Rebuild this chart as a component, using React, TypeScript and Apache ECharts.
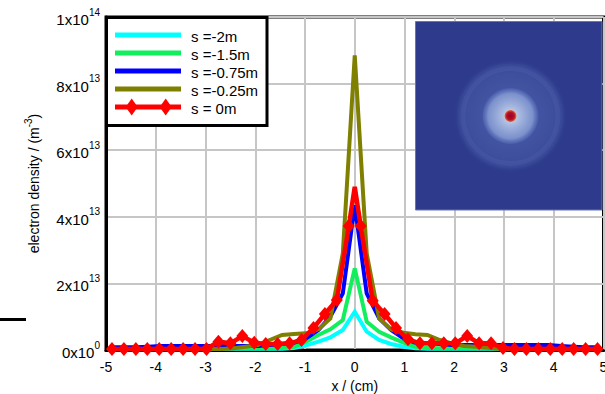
import React, { useEffect, useRef } from "react";
import * as echarts from "echarts";

// Sampling positions (cm) of the smooth profiles
const xProfile = [
  -4.88, -4.63, -4.39, -4.15, -3.9, -3.66, -3.41, -3.17, -2.93, -2.68, -2.44,
  -2.2, -1.95, -1.71, -1.46, -1.22, -0.98, -0.73, -0.49, -0.24, 0, 0.24, 0.49,
  0.73, 0.98, 1.22, 1.46, 1.71, 1.95, 2.2, 2.44, 2.68, 2.93, 3.17, 3.41, 3.66,
  3.9, 4.15, 4.39, 4.63, 4.88,
];

// Sampling positions (cm) of the s = 0m profile
const xZero = [
  -4.88, -4.64, -4.4, -4.17, -3.93, -3.69, -3.45, -3.21, -2.98, -2.74, -2.5,
  -2.26, -2.02, -1.79, -1.55, -1.31, -1.07, -0.83, -0.6, -0.36, -0.12, 0, 0.12,
  0.36, 0.6, 0.83, 1.07, 1.31, 1.55, 1.79, 2.02, 2.26, 2.5, 2.74, 2.98, 3.21,
  3.45, 3.69, 3.93, 4.17, 4.4, 4.64, 4.88,
];

// Electron density in units of 1e13 m^-3
const densS2 = [
  0.04, 0.04, 0.04, 0.04, 0.04, 0.04, 0.04, 0.04, 0.04, 0.04, 0.04, 0.04, 0.04,
  0.04, 0.04, 0.06, 0.14, 0.25, 0.38, 0.6, 1.15, 0.55, 0.3, 0.18, 0.1, 0.05,
  0.04, 0.04, 0.04, 0.04, 0.04, 0.04, 0.04, 0.04, 0.04, 0.04, 0.04, 0.04, 0.04,
  0.04, 0.04,
];
const densS15 = [
  0.05, 0.05, 0.05, 0.05, 0.05, 0.05, 0.05, 0.05, 0.05, 0.05, 0.05, 0.05, 0.05,
  0.05, 0.06, 0.1, 0.25, 0.45, 0.62, 0.9, 2.45, 0.85, 0.55, 0.38, 0.22, 0.1,
  0.06, 0.05, 0.05, 0.05, 0.05, 0.05, 0.05, 0.05, 0.05, 0.05, 0.05, 0.05, 0.05,
  0.05, 0.05,
];
const densS075 = [
  0.08, 0.08, 0.08, 0.1, 0.12, 0.12, 0.12, 0.12, 0.12, 0.12, 0.12, 0.12, 0.12,
  0.15, 0.18, 0.22, 0.35, 0.6, 1.0, 1.7, 4.35, 1.7, 0.95, 0.6, 0.35, 0.22, 0.2,
  0.18, 0.15, 0.15, 0.15, 0.15, 0.15, 0.15, 0.15, 0.15, 0.15, 0.12, 0.1, 0.08,
  0.08,
];
const densS025 = [
  0.03, 0.03, 0.03, 0.03, 0.03, 0.03, 0.03, 0.03, 0.03, 0.03, 0.05, 0.1, 0.15,
  0.3, 0.45, 0.48, 0.5, 0.62, 0.95, 2.9, 8.85, 2.9, 0.95, 0.62, 0.52, 0.47, 0.45,
  0.3, 0.2, 0.12, 0.1, 0.07, 0.03, 0.03, 0.03, 0.03, 0.03, 0.03, 0.03, 0.03,
  0.03,
];
const densS0 = [
  0.03, 0.03, 0.03, 0.03, 0.03, 0.03, 0.03, 0.03, 0.03, 0.25, 0.2, 0.42, 0.22,
  0.18, 0.18, 0.2, 0.3, 0.66, 1.08, 1.5, 3.72, 4.9, 3.72, 1.48, 1.08, 0.66,
  0.32, 0.2, 0.2, 0.2, 0.2, 0.42, 0.2, 0.2, 0.06, 0.03, 0.03, 0.03, 0.03, 0.03,
  0.03, 0.03, 0.03,
];

const seriesNames = ["s =-2m", "s =-1.5m", "s =-0.75m", "s =-0.25m", "s = 0m"];
const seriesColors = ["#00ffff", "#11f05c", "#0000ff", "#808000", "#ff0000"];

const xTicks = { min: -5, max: 5, interval: 1 };
const yTicks = { min: 0, max: 1e14, interval: 2e13 };

const FONT = '"Liberation Sans", Arial, sans-serif';

function sciLabel(v: number): string {
  if (v === 0) return "{a|0x10}{b|0}";
  const exp = Math.floor(Math.log10(v) + 1e-9);
  const mant = Math.round(v / Math.pow(10, exp));
  return `{a|${mant}x10}{b|${exp}}`;
}

export default function App() {
  const ref = useRef<HTMLDivElement>(null);

  useEffect(() => {
    if (!ref.current) return;
    const chart = echarts.init(ref.current, undefined, { renderer: "svg" });

    const profiles = [densS2, densS15, densS075, densS025];
    const lineSeries = profiles.map((vals, i) => ({
      name: seriesNames[i],
      type: "line",
      data: xProfile.map((x, j) => [x, vals[j] * 1e13]),
      showSymbol: false,
      lineStyle: { color: seriesColors[i], width: 4, join: "miter", miterLimit: 3 },
      itemStyle: { color: seriesColors[i] },
      z: 2 + i,
    }));

    const zeroSeries = {
      name: seriesNames[4],
      type: "line",
      data: xZero.map((x, j) =>
        x === 0
          ? { value: [x, densS0[j] * 1e13], symbol: "none" }
          : [x, densS0[j] * 1e13]
      ),
      symbol: "diamond",
      symbolSize: [12, 14],
      showAllSymbol: true,
      clip: false,
      lineStyle: { color: seriesColors[4], width: 4.5, join: "miter", miterLimit: 3 },
      itemStyle: { color: seriesColors[4] },
      z: 10,
    };

    // Legend box drawn by hand so the s = 0m entry shows two markers
    const rowY = [35, 53, 71, 89, 107];
    const legendEls: any[] = [
      {
        type: "rect",
        shape: { x: 106.5, y: 17.5, width: 160.5, height: 108 },
        style: { fill: "#ffffff", stroke: "#000000", lineWidth: 3 },
        z: 100,
      },
    ];
    seriesNames.forEach((name, i) => {
      legendEls.push({
        type: "line",
        shape: { x1: 115, y1: rowY[i], x2: 181, y2: rowY[i] },
        style: { stroke: seriesColors[i], lineWidth: 5 },
        z: 101,
      });
      legendEls.push({
        type: "text",
        style: {
          text: name,
          x: 191,
          y: rowY[i] + 1,
          fill: "#000000",
          font: `15px ${FONT}`,
          textAlign: "left",
          textVerticalAlign: "middle",
        },
        z: 102,
      });
    });
    [131.7, 165.7].forEach((cx) => {
      const cy = rowY[4];
      legendEls.push({
        type: "polygon",
        shape: {
          points: [
            [cx, cy - 8.5],
            [cx + 6, cy],
            [cx, cy + 8.5],
            [cx - 6, cy],
          ],
        },
        style: { fill: seriesColors[4] },
        z: 103,
      });
    });

    // Inset: top view of the plasma column
    const cx = 510.5;
    const cy = 116;
    const insetEls: any[] = [
      {
        type: "rect",
        shape: { x: 415.5, y: 21.5, width: 186.5, height: 188.5 },
        style: { fill: "#2e3b8c", stroke: "#6675b8", lineWidth: 1 },
        z: 100,
      },
      {
        type: "circle",
        shape: { cx, cy, r: 57 },
        style: {
          fill: new echarts.graphic.RadialGradient(0.5, 0.5, 0.5, [
            { offset: 0, color: "rgba(110,135,205,0.45)" },
            { offset: 0.75, color: "rgba(100,125,200,0.3)" },
            { offset: 0.9, color: "rgba(95,120,195,0.22)" },
            { offset: 1, color: "rgba(46,59,140,0)" },
          ]),
        },
        z: 101,
      },
      {
        type: "ring",
        shape: { cx, cy, r: 50, r0: 45 },
        style: { fill: "rgba(125,150,215,0.1)" },
        z: 102,
      },
      {
        type: "circle",
        shape: { cx, cy, r: 28 },
        style: {
          fill: new echarts.graphic.RadialGradient(0.5, 0.5, 0.5, [
            { offset: 0, color: "rgba(210,218,238,1)" },
            { offset: 0.35, color: "rgba(170,188,226,0.95)" },
            { offset: 0.8, color: "rgba(138,160,214,0.8)" },
            { offset: 1, color: "rgba(110,135,205,0.2)" },
          ]),
        },
        z: 103,
      },
      {
        type: "circle",
        shape: { cx, cy, r: 6.5 },
        style: {
          fill: new echarts.graphic.RadialGradient(0.5, 0.5, 0.5, [
            { offset: 0, color: "#9c0018" },
            { offset: 0.6, color: "#b3122a" },
            { offset: 0.85, color: "#d8604c" },
            { offset: 1, color: "rgba(235,205,165,0.4)" },
          ]),
        },
        z: 104,
      },
    ];

    const option: any = {
      animation: false,
      backgroundColor: "#ffffff",
      grid: {
        left: 106,
        right: 1.5,
        top: 17,
        bottom: 44,
        outerBoundsMode: "none",
        containLabel: false,
        show: true,
        borderColor: "#000000",
        borderWidth: 3,
      },
      xAxis: {
        type: "value",
        min: xTicks.min,
        max: xTicks.max,
        interval: xTicks.interval,
        name: "x / (cm)",
        nameLocation: "middle",
        nameGap: 28,
        nameTextStyle: { color: "#000", fontSize: 14, fontFamily: FONT },
        axisLine: { onZero: false, lineStyle: { color: "#000", width: 3 } },
        axisTick: { show: false },
        axisLabel: { color: "#000", fontSize: 14, fontFamily: FONT, margin: 10 },
        splitLine: { lineStyle: { color: "#c6c6c6", width: 2 } },
      },
      yAxis: {
        type: "value",
        min: yTicks.min,
        max: yTicks.max,
        interval: yTicks.interval,
        name: "{a|electron density / (m}{b|-3}{a|)}",
        nameLocation: "middle",
        nameGap: 65,
        nameTextStyle: {
          rich: {
            a: { fontSize: 14, fontFamily: FONT, color: "#000", lineHeight: 18, verticalAlign: "bottom" },
            b: { fontSize: 10, fontFamily: FONT, color: "#000", lineHeight: 10, verticalAlign: "top" },
          },
        },
        axisLine: { show: true, onZero: false, lineStyle: { color: "#000", width: 3 } },
        axisTick: { show: false },
        axisLabel: {
          margin: 6,
          formatter: sciLabel,
          rich: {
            a: { fontSize: 15, fontFamily: FONT, color: "#000", lineHeight: 20, verticalAlign: "bottom" },
            b: { fontSize: 10, fontFamily: FONT, color: "#000", lineHeight: 10, verticalAlign: "top" },
          },
        },
        splitLine: { lineStyle: { color: "#c6c6c6", width: 2 } },
      },
      series: [...lineSeries, zeroSeries],
      graphic: {
        elements: [
          ...legendEls,
          ...insetEls,
          {
            type: "line",
            shape: { x1: 0, y1: 319.5, x2: 26, y2: 319.5 },
            style: { stroke: "#000000", lineWidth: 3 },
            z: 100,
          },
        ],
      },
    };

    chart.setOption(option);
    return () => chart.dispose();
  }, []);

  return (
    <div
      ref={ref}
      style={{ position: "fixed", left: 0, top: 0, width: 605, height: 394, background: "#fff" }}
    />
  );
}
